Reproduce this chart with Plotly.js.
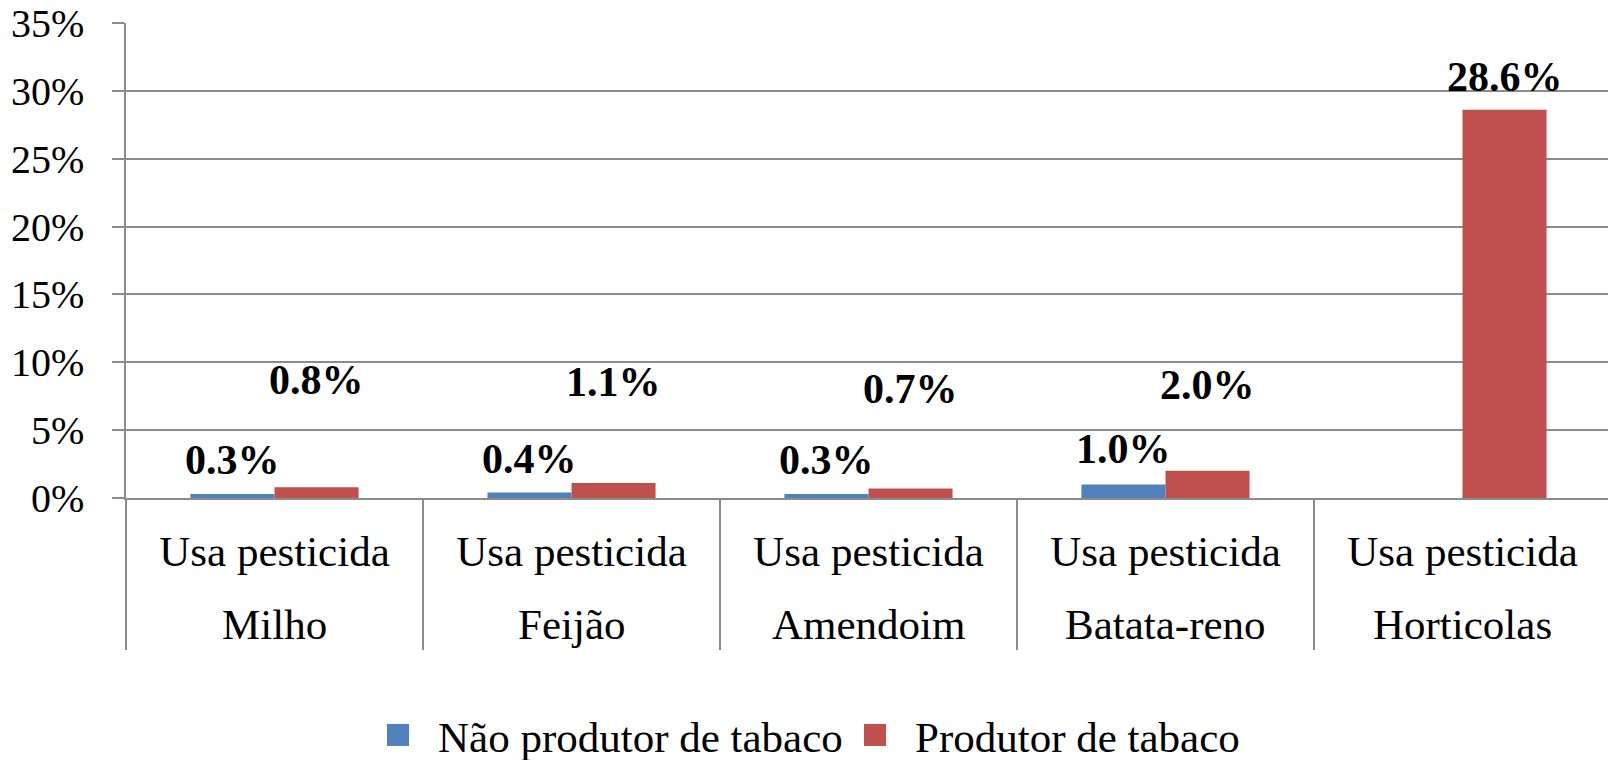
<!DOCTYPE html>
<html>
<head>
<meta charset="utf-8">
<script src="https://cdn.plot.ly/plotly-3.0.1.min.js"></script>
<style>html,body{margin:0;padding:0;background:#fff;overflow:hidden;}#chart{width:1611px;height:760px;}</style>
</head>
<body>
<div id="chart"></div>
<script>
const crops = ["Milho", "Feijão", "Amendoim", "Batata-reno", "Horticolas"];
const usage = ["Usa pesticida", "Usa pesticida", "Usa pesticida", "Usa pesticida", "Usa pesticida"];
const seriesNames = ["Não produtor de tabaco", "Produtor de tabaco"];
const naoProdutor = [0.3, 0.4, 0.3, 1.0, null];
const produtor = [0.8, 1.1, 0.7, 2.0, 28.6];
const yTicks = [0, 5, 10, 15, 20, 25, 30, 35];

// label placement (pixels above bar top) - styling only
const blueShift = [34, 34, 34, 35, 0];
const redShift = [107, 101, 100, 86, 33];

const blue = "#4F81BD", red = "#C0504D", grid = "#8c8c8c";
const FONT = "Liberation Serif, Times New Roman, serif";
const W = 1611, H = 760;

const traces = [
  {type: "bar", name: seriesNames[0], x: crops, y: naoProdutor, marker: {color: blue, line: {width: 0}}},
  {type: "bar", name: seriesNames[1], x: crops, y: produtor, marker: {color: red, line: {width: 0}}}
];

const barHalf = 0.1416;
const annotations = [];
const lblFont = {family: FONT, size: 42, color: "#000", weight: "bold"};
naoProdutor.forEach((v, i) => {
  if (v === null) return;
  annotations.push({xref: "x", yref: "y", x: i - barHalf, y: v, yshift: blueShift[i], showarrow: false,
    text: v.toFixed(1) + "%", font: lblFont, yanchor: "middle"});
});
produtor.forEach((v, i) => {
  annotations.push({xref: "x", yref: "y", x: i + barHalf, y: v, yshift: redShift[i], showarrow: false,
    text: v.toFixed(1) + "%", font: lblFont, yanchor: "middle"});
});
// second line of category labels (crop names)
crops.forEach((c, i) => {
  annotations.push({xref: "x", yref: "paper", x: i, y: -0.267, showarrow: false, text: c,
    font: {family: FONT, size: 43, color: "#000"}, yanchor: "middle"});
});

const layout = {
  width: W, height: H,
  margin: {l: 126, r: 0, t: 23, b: 262},
  paper_bgcolor: "#fff", plot_bgcolor: "#fff",
  font: {family: FONT, color: "#000"},
  barmode: "group", bargap: 0.434, bargroupgap: 0,
  showlegend: true,
  legend: {orientation: "h", xref: "container", yref: "container", x: 398 / W, y: 1 - 735 / H, xanchor: "left", yanchor: "middle",
    font: {family: FONT, size: 43, color: "#000"}, itemwidth: 30, traceorder: "normal",
    entrywidth: 432, entrywidthmode: "pixels"},
  xaxis: {type: "category", categoryarray: crops, tickvals: crops, ticktext: usage,
    showline: true, linecolor: grid, linewidth: 1.5, showgrid: false,
    ticks: "outside", tickson: "boundaries", ticklen: 150, tickcolor: grid, tickwidth: 1.5,
    ticklabelstandoff: 15,
    tickfont: {family: FONT, size: 43, color: "#000"}, zeroline: false},
  yaxis: {range: [0, 35], tickvals: yTicks, ticktext: yTicks.map(t => t + "%"), showline: true, linecolor: grid, linewidth: 1.5,
    showgrid: true, gridcolor: grid, gridwidth: 1.5, ticks: "outside", ticklen: 12, tickcolor: grid, tickwidth: 1.5,
    ticklabelstandoff: 20, tickfont: {family: FONT, size: 40, color: "#000"}, zeroline: false},
  annotations: annotations
};

function enlargeLegendSwatches(gd) {
  gd.querySelectorAll(".legend [clip-path]").forEach(el => el.removeAttribute("clip-path"));
  gd.querySelectorAll(".legend .legendpoints path").forEach(p => {
    p.removeAttribute("transform");
    p.setAttribute("d", "M11,11H-11V-11H11Z");
  });
}

Plotly.newPlot("chart", traces, layout, {displayModeBar: false, responsive: false}).then(gd => {
  enlargeLegendSwatches(gd);
});
</script>
</body>
</html>
